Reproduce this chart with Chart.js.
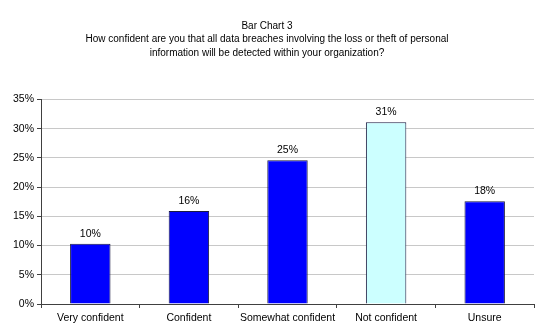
<!DOCTYPE html>
<html>
<head>
<meta charset="utf-8">
<script src="https://cdn.jsdelivr.net/npm/chart.js@4/dist/chart.umd.min.js"></script>
<style>
  html, body { margin: 0; padding: 0; background: #fff; }
  canvas { display: block; }
</style>
</head>
<body>
<canvas id="chart" width="540" height="331"></canvas>
<script>
// Survey answers and share of respondents (percent)
const categories = ['Very confident', 'Confident', 'Somewhat confident', 'Not confident', 'Unsure'];
const shares = [10.3, 15.9, 24.6, 31.1, 17.6];
const barColors = ['#0000ff', '#0000ff', '#0000ff', '#ccffff', '#0000ff'];
const titleLines = [
    'Bar Chart 3',
    'How confident are you that all data breaches involving the loss or theft of personal',
    'information will be detected within your organization?'
];

const FONT = "'Liberation Sans', Arial, sans-serif";

// Writes the rounded percentage above each bar
const valueLabels = {
    id: 'valueLabels',
    afterDatasetsDraw(chart) {
        const ctx = chart.ctx;
        const meta = chart.getDatasetMeta(0);
        ctx.save();
        ctx.font = '10.5px ' + FONT;
        ctx.fillStyle = '#000';
        ctx.textAlign = 'center';
        ctx.textBaseline = 'alphabetic';
        meta.data.forEach((bar, i) => {
            ctx.fillText(Math.round(shares[i]) + '%', bar.x, bar.y - 7);
        });
        ctx.restore();
    }
};

const ctx = document.getElementById('chart').getContext('2d');
new Chart(ctx, {
    type: 'bar',
    data: {
        labels: categories,
        datasets: [{
            data: shares,
            backgroundColor: barColors,
            borderColor: '#1a1a40',
            borderWidth: 1,
            categoryPercentage: 1,
            barPercentage: 0.41
        }]
    },
    options: {
        responsive: false,
        animation: false,
        layout: { padding: { left: 0, right: 6, top: 0, bottom: 0 } },
        plugins: {
            legend: { display: false },
            tooltip: { enabled: false },
            title: {
                display: true,
                text: titleLines,
                color: '#000',
                font: { family: FONT, size: 10, weight: 'normal', lineHeight: 1.35 },
                padding: { top: 19, bottom: 40 }
            }
        },
        scales: {
            x: {
                grid: {
                    drawOnChartArea: false,
                    drawTicks: true,
                    tickLength: 4,
                    tickColor: '#404040'
                },
                border: { color: '#404040' },
                ticks: {
                    color: '#000',
                    font: { family: FONT, size: 10.5 },
                    padding: 4,
                    maxRotation: 0,
                    autoSkip: false
                },
                afterFit(scale) { scale.height = 27; }
            },
            y: {
                min: 0,
                max: 35,
                grid: {
                    color: '#c8c8c8',
                    tickColor: '#404040',
                    tickLength: 4
                },
                border: { color: '#404040' },
                ticks: {
                    stepSize: 5,
                    color: '#000',
                    font: { family: FONT, size: 10.5 },
                    padding: 3,
                    callback: v => v + '%'
                },
                afterFit(scale) { scale.width = 41; }
            }
        }
    },
    plugins: [valueLabels]
});
</script>
</body>
</html>
